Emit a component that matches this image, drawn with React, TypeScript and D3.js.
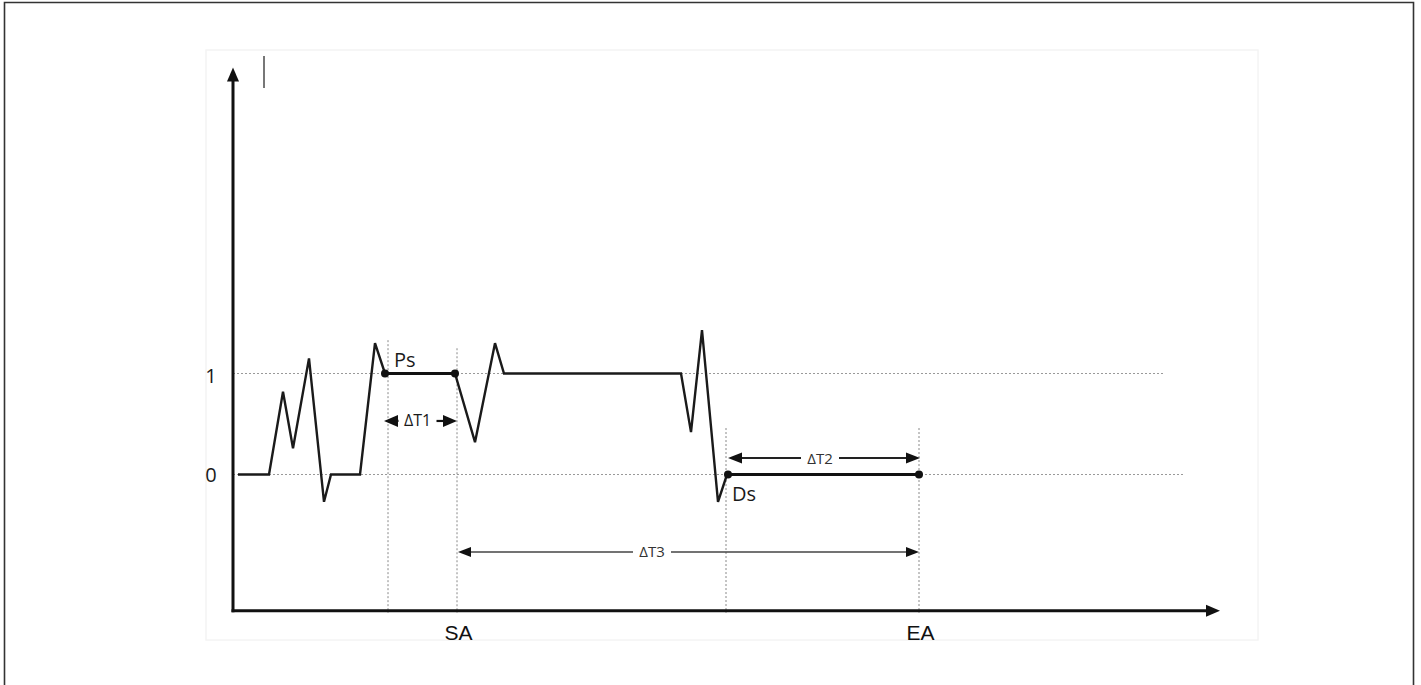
import React from "react";
import * as d3 from "d3";

// Signal: time (arbitrary units) and state value
const signalT = [5, 36, 50, 60, 76, 91, 98, 127, 142, 152, 222, 242, 262, 271, 448, 458, 469, 485, 494, 686];
const signalV = [0, 0, 0.82, 0.26, 1.15, -0.27, 0, 0, 1.3, 1, 1, 0.32, 1.3, 1, 1, 0.42, 1.43, -0.27, 0, 0];

const yTicks = [0, 1];
const yTickLabels = ["0", "1"];

// Key instants
const tPs = 152;
const tSA = 224;
const tDs = 494;
const tEA = 686;
const tPsLine = 155;
const tDsLine = 493;

const xMarkers = [
  { t: tSA, label: "SA" },
  { t: tEA, label: "EA" },
];

const spans = [
  { label: "ΔT1", t0: 151, t1: 224, v: 0.53, center: 184.5, gap: 19, w: 2.2, color: "#111", fs: 16, fill: "#1a1a1a", head: 14, half: 6 },
  { label: "ΔT2", t0: 495, t1: 687, v: 0.163, center: 587, gap: 19, w: 2, color: "#222", fs: 15, fill: "#333", head: 14, half: 5.5 },
  { label: "ΔT3", t0: 225, t1: 686, v: -0.767, center: 419, gap: 19, w: 1.4, color: "#444", fs: 15, fill: "#333", head: 13, half: 5 },
];

export default function App() {
  const W = 1421;
  const H = 685;
  const x = d3.scaleLinear().domain([0, 1000]).range([233, 1233]);
  const y = d3.scaleLinear().domain([0, 1]).range([474.5, 373.5]);

  const pts: [number, number][] = signalT.map((t, i) => [x(t), y(signalV[i])]);
  const line = d3.line();

  const axisY0 = y(-1.35);
  const axisYTop = y(4.03);
  const axisXEnd = x(987);

  const ff = "'Open Sans', 'Noto Sans', sans-serif";
  const arial = "'Liberation Sans', Arial, sans-serif";

  const arrowHead = (tipX: number, tipY: number, dir: number, len = 11, half = 5) =>
    `M${tipX},${tipY} L${tipX - dir * len},${tipY - half} L${tipX - dir * len},${tipY + half} Z`;

  return (
    <svg width={W} height={H} style={{ position: "absolute", left: 0, top: 0, background: "#fff" }}>
      {/* outer frame */}
      <path d={`M4.5,${H + 5} L4.5,2.5 L1413.5,2.5 L1413.5,${H + 5}`} fill="none" stroke="#333" strokeWidth={1.6} />
      {/* faint scan boundary */}
      <rect x={206} y={50} width={1052} height={590} fill="none" stroke="#f4f4f4" strokeWidth={1.5} />

      {/* horizontal dotted reference lines */}
      <line x1={x(0)} x2={x(930)} y1={y(1)} y2={y(1)} stroke="#999" strokeWidth={1} strokeDasharray="2,2" />
      <line x1={x(0)} x2={x(950)} y1={y(0)} y2={y(0)} stroke="#999" strokeWidth={1} strokeDasharray="2,2" />

      {/* vertical dotted lines */}
      <line x1={x(tPsLine)} x2={x(tPsLine)} y1={y(1.33)} y2={axisY0 + 2} stroke="#888" strokeWidth={1} strokeDasharray="2,2" />
      <line x1={x(tSA)} x2={x(tSA)} y1={y(1.25)} y2={axisY0 + 2} stroke="#888" strokeWidth={1} strokeDasharray="2,2" />
      <line x1={x(tDsLine)} x2={x(tDsLine)} y1={y(0.46)} y2={axisY0 + 2} stroke="#888" strokeWidth={1} strokeDasharray="2,2" />
      <line x1={x(tEA)} x2={x(tEA)} y1={y(0.46)} y2={axisY0 + 2} stroke="#888" strokeWidth={1} strokeDasharray="2,2" />

      {/* axes */}
      <line x1={x(0)} x2={x(0)} y1={axisY0 + 1.5} y2={axisYTop + 10} stroke="#111" strokeWidth={3} />
      <path d={`M${x(0)},${axisYTop} L${x(0) - 6},${axisYTop + 14} L${x(0) + 6},${axisYTop + 14} Z`} fill="#111" />
      <line x1={x(0) - 1.5} x2={axisXEnd - 10} y1={axisY0} y2={axisY0} stroke="#111" strokeWidth={3} />
      <path d={`M${axisXEnd},${axisY0} L${axisXEnd - 14},${axisY0 - 6} L${axisXEnd - 14},${axisY0 + 6} Z`} fill="#111" />

      {/* small gray mark near top */}
      <line x1={x(31)} x2={x(31)} y1={56} y2={88} stroke="#777" strokeWidth={2} />

      {/* y tick labels */}
      {yTicks.map((v, i) => (
        <text key={v} x={211} y={y(v) + (v === 0 ? 7.5 : 9.5)} textAnchor="middle" fontFamily={ff} fontSize={20} fill="#1a1a1a">
          {yTickLabels[i]}
        </text>
      ))}

      {/* signal */}
      <path d={line(pts) || ""} fill="none" stroke="#1a1a1a" strokeWidth={2.4} strokeLinejoin="miter" />
      {/* emphasised segments */}
      <line x1={x(tPs)} x2={x(tSA - 2)} y1={y(1)} y2={y(1)} stroke="#111" strokeWidth={3} />
      <line x1={x(tDs)} x2={x(tEA)} y1={y(0)} y2={y(0)} stroke="#111" strokeWidth={3} />
      {[tPs, tSA - 2, tDs + 1, tEA].map((t, i) => (
        <circle key={i} cx={x(t)} cy={i < 2 ? y(1) : y(0)} r={4} fill="#111" />
      ))}

      {/* Ps / Ds labels */}
      <text x={x(161)} y={367} fontFamily={ff} fontSize={20} fill="#1a1a1a">Ps</text>
      <text x={x(499)} y={501} fontFamily={ff} fontSize={20} fill="#1a1a1a">Ds</text>

      {/* span arrows */}
      {spans.map((s) => {
        const x0 = x(s.t0);
        const x1 = x(s.t1);
        const yy = y(s.v);
        const cx = x(s.center);
        return (
          <g key={s.label}>
            <line x1={x0 + s.head - 1} x2={cx - s.gap} y1={yy} y2={yy} stroke={s.color} strokeWidth={s.w} />
            <line x1={cx + s.gap} x2={x1 - s.head + 1} y1={yy} y2={yy} stroke={s.color} strokeWidth={s.w} />
            <path d={arrowHead(x0, yy, -1, s.head, s.half)} fill="#111" />
            <path d={arrowHead(x1, yy, 1, s.head, s.half)} fill="#111" />
            <text x={cx} y={yy + 5.5} textAnchor="middle" fontFamily={ff} fontSize={s.fs} fill={s.fill}>
              {s.label}
            </text>
          </g>
        );
      })}

      {/* x markers */}
      {xMarkers.map((m) => (
        <text key={m.label} x={x(m.t) + 1.5} y={640} textAnchor="middle" fontFamily={arial} fontSize={21} fill="#111">
          {m.label}
        </text>
      ))}
    </svg>
  );
}
